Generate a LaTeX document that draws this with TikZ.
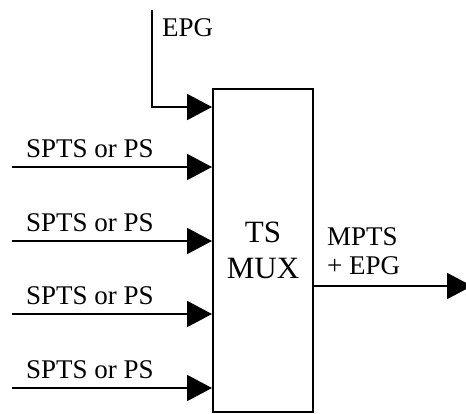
\documentclass[tikz,border=0pt]{standalone}
\usepackage{fontspec}
\setmainfont{Liberation Serif}
\usetikzlibrary{arrows.meta}
\begin{document}
\begin{tikzpicture}[x=1pt,y=-1pt,
  ln/.style={line width=2pt},
  arr/.style={ln,-{Triangle[length=25pt,width=26pt]}},
  lab/.style={inner sep=0pt,anchor=base west,font=\fontsize{27}{27}\selectfont},
  big/.style={inner sep=0pt,anchor=base,font=\fontsize{31}{31}\selectfont}]
\useasboundingbox (0,0) rectangle (466,413);
\node[draw,ln,minimum width=100pt,minimum height=323pt,inner sep=0pt] (mux) at (263,250.5) {};
\node[big] (ts) at (263,242) {TS};
\node[big] (mx) at (263,278) {MUX};
% EPG
\coordinate (e0) at (152,10);
\coordinate (e1) at (152,107);
\draw[arr] (e0) -- (e1) -- (mux.west |- e1);
\node[lab] (epg) at (162,36) {EPG};
% inputs
\foreach \i/\y in {1/167,2/241,3/314,4/388}{
  \coordinate (s\i) at (12,\y);
  \draw[arr] (s\i) -- (mux.west |- s\i);
  \node[lab] (l\i) at (26,\y-10) {SPTS or PS};
}
% output
\coordinate (o) at (472,286);
\draw[arr] (mux.east |- o) -- (o);
\node[lab] (m1) at (327,245) {MPTS};
\node[lab] (m2) at (327,274) {+ EPG};
\end{tikzpicture}
\end{document}
